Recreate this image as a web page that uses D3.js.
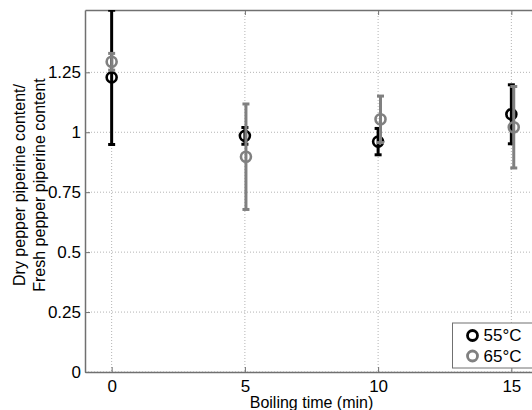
<!DOCTYPE html>
<html>
<head>
<meta charset="utf-8">
<script src="https://cdn.jsdelivr.net/npm/d3@7"></script>
<style>
  body { margin: 0; background: #fff; }
  text { font-family: "Liberation Sans", Arial, sans-serif; }
</style>
</head>
<body>
<div id="chart"></div>
<script>
// data
var times = [0, 5, 10, 15];
var series = ["55°C", "65°C"];
var mean55 = [1.229, 0.985, 0.961, 1.075];
var err55 = [0.28, 0.035, 0.055, 0.123];
var mean65 = [1.294, 0.898, 1.054, 1.021];
var err65 = [0.035, 0.22, 0.097, 0.17];
var shift65 = [0, 0.04, 0.09, 0.09];
var yTicks = [0, 0.25, 0.5, 0.75, 1, 1.25];
var xTicks = [0, 5, 10, 15];

var margin = { top: 10, left: 85 },
    width = 453,
    height = 362;

var svg = d3.select("#chart")
    .append("svg")
    .attr("width", 532)
    .attr("height", 410);

var g = svg.append("g")
    .attr("transform", "translate(" + margin.left + "," + margin.top + ")");

var x = d3.scaleLinear().domain([-1, 16]).range([0, width]);
var y = d3.scaleLinear().domain([0, 1.51]).range([height, 0]);

g.append("clipPath").attr("id", "clip")
    .append("rect").attr("width", width).attr("height", height);

// grid
g.selectAll(".vgrid")
    .data(xTicks)
    .enter()
    .append("line")
    .attr("x1", function(d) { return x(d); })
    .attr("x2", function(d) { return x(d); })
    .attr("y1", 0)
    .attr("y2", height)
    .attr("stroke", "#b4b4b4")
    .attr("stroke-width", 1)
    .attr("stroke-dasharray", "1,2");

g.selectAll(".hgrid")
    .data(yTicks)
    .enter()
    .append("line")
    .attr("x1", 0)
    .attr("x2", width)
    .attr("y1", function(d) { return y(d); })
    .attr("y2", function(d) { return y(d); })
    .attr("stroke", "#b4b4b4")
    .attr("stroke-width", 1)
    .attr("stroke-dasharray", "1,2");

// axes
function styleAxis(sel) {
    sel.select(".domain").attr("stroke", "#707070").attr("stroke-width", 1.5);
    sel.selectAll(".tick line").attr("stroke", "#707070");
    sel.selectAll(".tick text")
        .attr("fill", "#000")
        .style("font-size", "17px")
        .style("font-family", "Liberation Sans, Arial, sans-serif");
}

g.append("g")
    .attr("transform", "translate(0," + height + ")")
    .call(d3.axisBottom(x).tickValues(xTicks).tickSize(-5).tickPadding(8).tickSizeOuter(0))
    .call(styleAxis);

g.append("g")
    .call(d3.axisTop(x).tickValues(xTicks).tickSize(-5).tickFormat("").tickSizeOuter(0))
    .call(styleAxis);

g.append("g")
    .call(d3.axisLeft(y).tickValues(yTicks).tickSize(-5).tickPadding(4).tickSizeOuter(0)
        .tickFormat(function(d) { return d3.format("")(d); }))
    .call(styleAxis);

// error bars + markers
var plot = g.append("g").attr("clip-path", "url(#clip)");

function drawSeries(means, errs, shift, color) {
    var pts = times.map(function(t, i) {
        return { t: t + shift[i], m: means[i], e: errs[i] };
    });
    var s = plot.append("g");
    s.selectAll(".bar").data(pts).enter().append("line")
        .attr("x1", function(d) { return x(d.t); })
        .attr("x2", function(d) { return x(d.t); })
        .attr("y1", function(d) { return y(d.m - d.e); })
        .attr("y2", function(d) { return y(d.m + d.e); })
        .attr("stroke", color).attr("stroke-width", 3);
    [-1, 1].forEach(function(sgn) {
        s.selectAll(".cap").data(pts).enter().append("line")
            .attr("x1", function(d) { return x(d.t) - 3.5; })
            .attr("x2", function(d) { return x(d.t) + 3.5; })
            .attr("y1", function(d) { return y(d.m + sgn * d.e); })
            .attr("y2", function(d) { return y(d.m + sgn * d.e); })
            .attr("stroke", color).attr("stroke-width", 3);
    });
    s.selectAll("circle").data(pts).enter().append("circle")
        .attr("cx", function(d) { return x(d.t); })
        .attr("cy", function(d) { return y(d.m); })
        .attr("r", 5)
        .attr("fill", "none")
        .attr("stroke", color)
        .attr("stroke-width", 2.6);
}

drawSeries(mean55, err55, [0, 0, 0, 0], "#000000");
drawSeries(mean65, err65, shift65, "#808080");

// axis labels
g.append("text")
    .attr("x", width / 2)
    .attr("y", height + 35.5)
    .attr("text-anchor", "middle")
    .style("font-size", "16px")
    .text("Boiling time (min)");

var yl = g.append("text")
    .attr("transform", "translate(" + (-60) + "," + 175 + ")rotate(-90)")
    .attr("text-anchor", "middle")
    .style("font-size", "16px");
yl.append("tspan").attr("x", 0).attr("dy", 0).text("Dry pepper piperine content/");
yl.append("tspan").attr("x", 0).attr("dy", 20).text("Fresh pepper piperine content");

// legend
var leg = svg.append("g").attr("transform", "translate(452.5,323)");
leg.append("rect")
    .attr("width", 100).attr("height", 45)
    .attr("fill", "#fff").attr("stroke", "#707070").attr("stroke-width", 1);
var legColors = ["#000000", "#808080"];
series.forEach(function(name, i) {
    leg.append("circle")
        .attr("cx", 20).attr("cy", 12.5 + i * 20.5).attr("r", 5)
        .attr("fill", "none").attr("stroke", legColors[i]).attr("stroke-width", 2.8);
    leg.append("text")
        .attr("x", 31).attr("y", 18 + i * 20.5)
        .style("font-size", "17px")
        .text(name);
});
</script>
</body>
</html>
